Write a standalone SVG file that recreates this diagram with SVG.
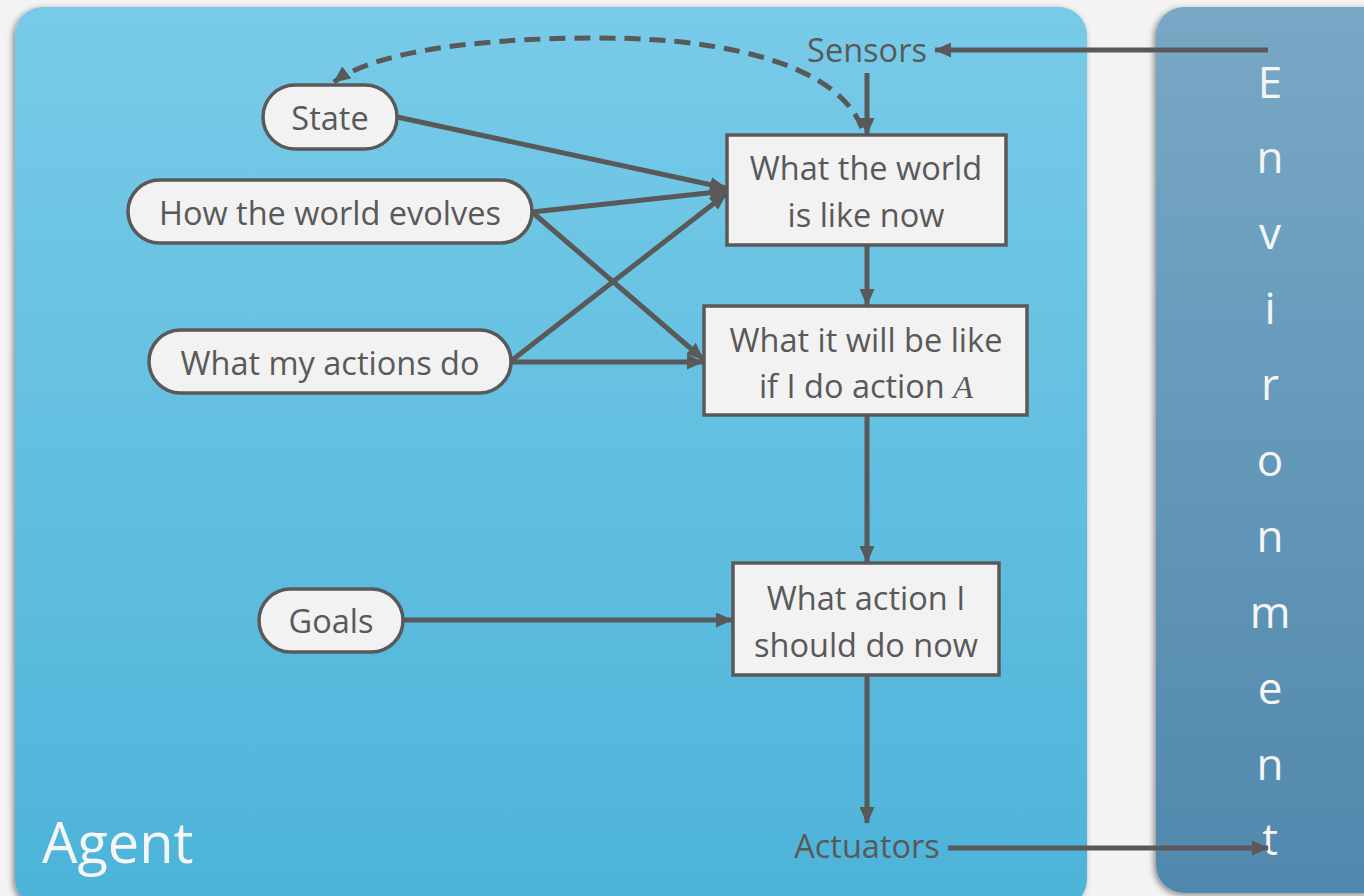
<svg xmlns="http://www.w3.org/2000/svg" width="1364" height="896" viewBox="0 0 1364 896">
<defs>
<linearGradient id="gAgent" x1="0" y1="0" x2="0" y2="1">
<stop offset="0" stop-color="#78cbe8"/>
<stop offset="1" stop-color="#4db3d9"/>
</linearGradient>
<linearGradient id="gEnv" x1="0" y1="0" x2="0" y2="1">
<stop offset="0" stop-color="#78a8c5"/>
<stop offset="1" stop-color="#5088ad"/>
</linearGradient>
<filter id="sh" x="-5%" y="-5%" width="110%" height="110%">
<feGaussianBlur in="SourceAlpha" stdDeviation="3"/>
<feOffset dx="-2" dy="2"/>
<feComponentTransfer><feFuncA type="linear" slope="0.45"/></feComponentTransfer>
<feMerge><feMergeNode/><feMergeNode in="SourceGraphic"/></feMerge>
</filter>
<marker id="ah" viewBox="0 0 17 15" refX="16" refY="7.5" markerWidth="17" markerHeight="15" markerUnits="userSpaceOnUse" orient="auto">
<path d="M0,0 L17,7.5 L0,15 Z" fill="#595959"/>
</marker>
<style>
.pill{fill:#f2f2f2;stroke:#595959;stroke-width:3.5}
.box{fill:#f2f2f2;stroke:#595959;stroke-width:3.5}
.t{font-family:"Open Sans","Noto Sans",sans-serif;font-size:32.5px;fill:#595959;text-anchor:middle}
.env{font-family:"Open Sans","Noto Sans",sans-serif;font-size:44px;fill:#f5f5f5;text-anchor:middle}
.c{stroke:#595959;stroke-width:5;fill:none;marker-end:url(#ah)}
</style>
</defs>
<rect width="1364" height="896" fill="#f3f3f3"/>
<g id="agent-panel">
<rect x="15" y="7" width="1072" height="900" rx="28" fill="url(#gAgent)" filter="url(#sh)"/>
<text x="42" y="863" font-family="'Open Sans','Noto Sans',sans-serif" font-size="56" fill="#f5f5f5">Agent</text>
</g>
<g id="environment-panel">
<rect x="1156" y="7" width="240" height="886" rx="28" fill="url(#gEnv)" filter="url(#sh)"/>
<text class="env" x="1270" y="98">E</text>
<text class="env" x="1270" y="173">n</text>
<text class="env" x="1270" y="249">v</text>
<text class="env" x="1270" y="324">i</text>
<text class="env" x="1270" y="400">r</text>
<text class="env" x="1270" y="476">o</text>
<text class="env" x="1270" y="552">n</text>
<text class="env" x="1270" y="628">m</text>
<text class="env" x="1270" y="704">e</text>
<text class="env" x="1270" y="780">n</text>
<text class="env" x="1270" y="855">t</text>
</g>
<g id="connectors">
<line class="c" x1="1268" y1="50" x2="935" y2="50"/>
<line class="c" x1="867" y1="73" x2="867" y2="134"/>
<path d="M862,128 C840,70 740,38 600,38 C460,38 370,55 334,82" stroke="#595959" stroke-width="5" fill="none" stroke-dasharray="16,9" marker-end="url(#ah)"/>
<line class="c" x1="397" y1="117" x2="726" y2="188"/>
<line class="c" x1="532" y1="212" x2="726" y2="191"/>
<line class="c" x1="511" y1="361" x2="726" y2="194"/>
<line class="c" x1="532" y1="212" x2="703" y2="359"/>
<line class="c" x1="511" y1="362" x2="703" y2="362"/>
<line class="c" x1="867" y1="245" x2="867" y2="305"/>
<line class="c" x1="867" y1="415" x2="867" y2="562"/>
<line class="c" x1="403" y1="620" x2="732" y2="620"/>
<line class="c" x1="867" y1="675" x2="867" y2="823"/>
<line class="c" x1="948" y1="848" x2="1268" y2="848"/>
</g>
<g id="sensors"><text class="t" x="867" y="62">Sensors</text></g>
<g id="actuators"><text class="t" x="867" y="858">Actuators</text></g>
<g id="state"><rect class="pill" x="263" y="85" width="134" height="64" rx="32"/><text class="t" x="330" y="130">State</text></g>
<g id="how-world-evolves"><rect class="pill" x="128" y="180" width="404" height="63" rx="31.5"/><text class="t" x="330" y="225">How the world evolves</text></g>
<g id="what-my-actions-do"><rect class="pill" x="149" y="330" width="362" height="63" rx="31.5"/><text class="t" x="330" y="375">What my actions do</text></g>
<g id="goals"><rect class="pill" x="259" y="589" width="144" height="63" rx="31.5"/><text class="t" x="331" y="633">Goals</text></g>
<g id="world-now"><rect class="box" x="727" y="135" width="279" height="110"/><text class="t" x="866" y="180">What the world</text><text class="t" x="866" y="227">is like now</text></g>
<g id="will-be-like"><rect class="box" x="704" y="306" width="323" height="109"/><text class="t" x="866" y="352">What it will be like</text><text class="t" x="866" y="398">if I do action <tspan font-family="'Liberation Serif',serif" font-style="italic">A</tspan></text></g>
<g id="what-action"><rect class="box" x="733" y="563" width="266" height="112"/><text class="t" x="866" y="610">What action I</text><text class="t" x="866" y="657">should do now</text></g>
</svg>
